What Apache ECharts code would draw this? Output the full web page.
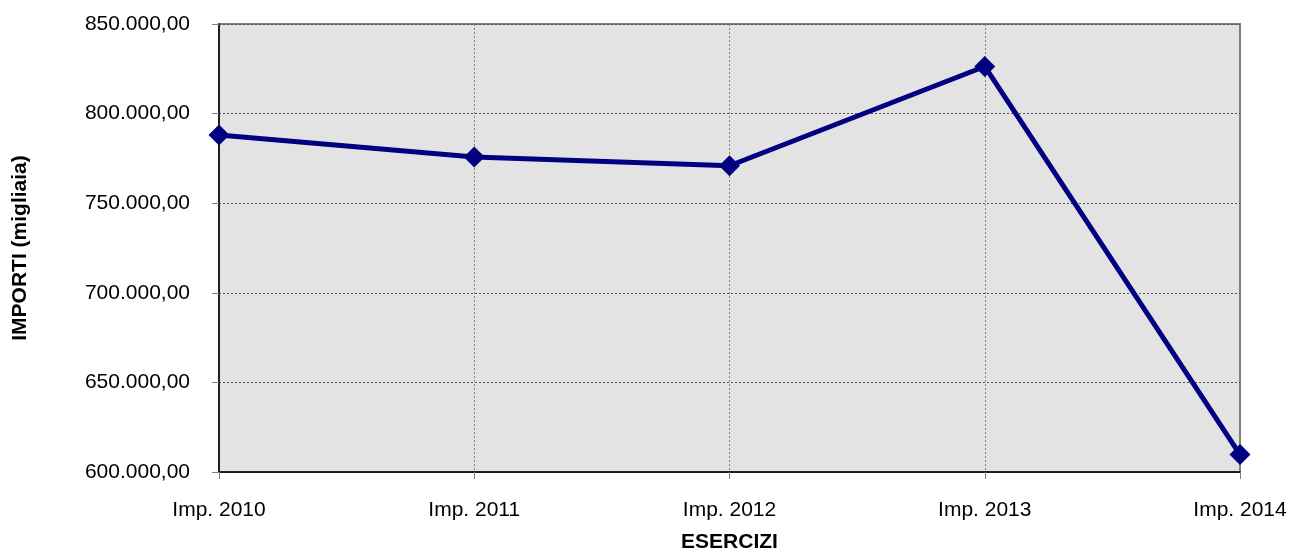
<!DOCTYPE html>
<html><head><meta charset="utf-8">
<script src="https://cdn.jsdelivr.net/npm/echarts@6/dist/echarts.min.js"></script>
<style>html,body{margin:0;padding:0;background:#fff;overflow:hidden}#c{width:1291px;height:558px}</style>
</head><body><div id="c"></div>
<script>
const categories = ['Imp. 2010','Imp. 2011','Imp. 2012','Imp. 2013','Imp. 2014'];
const values = [788000, 775800, 770900, 826300, 609700];
const yMin = 600000, yMax = 850000, yStep = 50000;
const xTitle = 'ESERCIZI', yTitle = 'IMPORTI (migliaia)';

function fmt(v){
  const s = Math.round(v).toString().replace(/\B(?=(\d{3})+(?!\d))/g,'.');
  return s + ',00';
}
const chart = echarts.init(document.getElementById('c'));
const font = 'Liberation Sans, Arial, sans-serif';
chart.setOption({
  animation:false,
  grid:{left:219, top:24, right:51, bottom:78, show:true, backgroundColor:'#e3e3e3', borderColor:'#808080', borderWidth:2},
  xAxis:{type:'category', data:categories, boundaryGap:false,
    name:xTitle, nameLocation:'middle', nameGap:60,
    nameTextStyle:{fontFamily:font, fontSize:21, fontWeight:'bold', color:'#000'},
    axisLine:{lineStyle:{color:'#000', width:1.5}},
    axisTick:{show:true, length:7, lineStyle:{color:'#808080'}},
    axisLabel:{fontFamily:font, fontSize:21, color:'#000', margin:28},
    splitLine:{show:true, lineStyle:{color:'#808080', type:[2,2], width:1}}},
  yAxis:{type:'value', min:yMin, max:yMax, interval:yStep,
    name:yTitle, nameLocation:'middle', nameGap:188, nameRotate:90,
    nameTextStyle:{fontFamily:font, fontSize:21, fontWeight:'bold', color:'#000'},
    axisLine:{show:true, lineStyle:{color:'#000', width:1.5}},
    axisTick:{show:true, length:7, lineStyle:{color:'#808080'}},
    axisLabel:{fontFamily:font, fontSize:21, color:'#000', margin:29, formatter:fmt},
    splitLine:{show:true, lineStyle:{color:'#555', type:[2,2], width:1}}},
  series:[{type:'line', data:values, symbol:'diamond', symbolSize:21,
    lineStyle:{color:'#000080', width:5}, itemStyle:{color:'#000080'}}]
});
</script></body></html>
